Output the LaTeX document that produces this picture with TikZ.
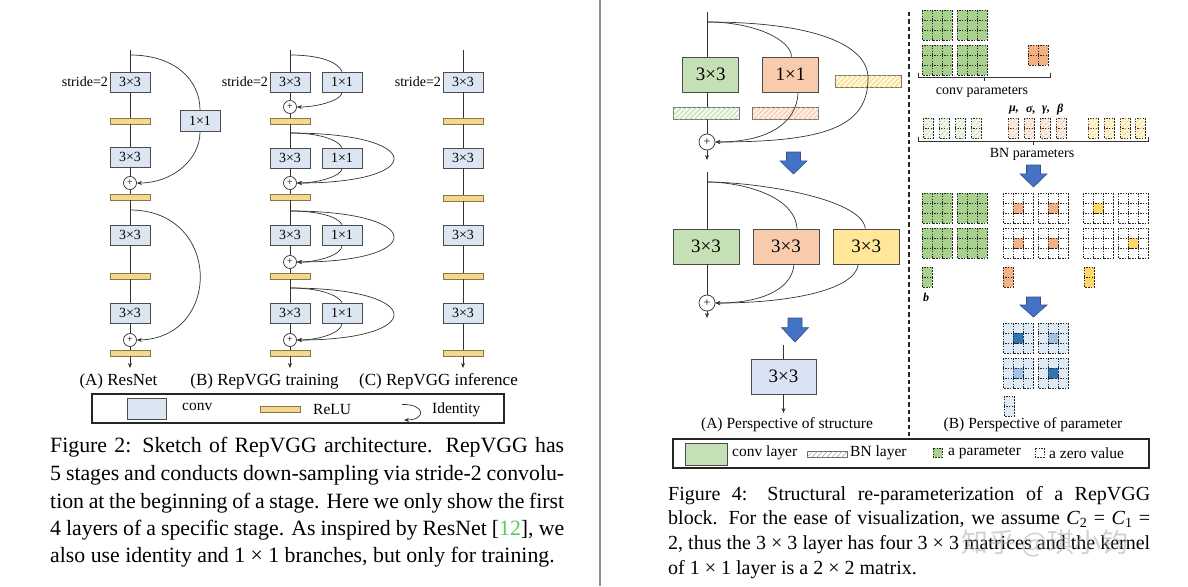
\documentclass[tikz,border=0pt]{standalone}
\usepackage{fontspec}
\setmainfont{Liberation Serif}
\newfontfamily\cjkfont{Noto Sans CJK SC}
\usetikzlibrary{arrows.meta,patterns.meta,calc}
\definecolor{convblue}{HTML}{DCE6F2}
\definecolor{reluy}{HTML}{F2D98F}
\definecolor{relud}{HTML}{8A7746}
\definecolor{lgreen}{HTML}{C5E0B4}
\definecolor{lorange}{HTML}{F8CBAD}
\definecolor{lyellow}{HTML}{FFE699}
\definecolor{lblue}{HTML}{DAE3F3}
\definecolor{arrowblue}{HTML}{4472C4}
\definecolor{pgreen}{HTML}{A9D18E}
\definecolor{porange}{HTML}{F4B183}
\definecolor{pyellow}{HTML}{FFD966}
\definecolor{pblue1}{HTML}{DEEBF7}
\definecolor{pblue2}{HTML}{9DC3E6}
\definecolor{pblue3}{HTML}{2E75B6}
\definecolor{citegreen}{HTML}{4FD24F}
\definecolor{sepgray}{HTML}{8C8C8C}
\definecolor{bngreen}{HTML}{F1F8EC}
\definecolor{bnorange}{HTML}{FDEEE4}
\definecolor{bnyellow}{HTML}{FFF7DA}
\definecolor{hgreen}{HTML}{A9D18E}
\definecolor{horange}{HTML}{F4B183}
\definecolor{hyellow}{HTML}{F2C94C}
\definecolor{hgray}{HTML}{A0A0A0}
% grid of dashed parameter cells: x y cols rows fill
\newcommand{\mygrid}[5]{%
  \foreach \ci in {1,...,#3}{%
    \foreach \cj in {1,...,#4}{%
      \draw[cellsty,fill=#5] ({#1+10*(\ci-1)},{#2+10*(\cj-1)}) rectangle ++(10,10);
    }}}
% hatched cells: x y cols rows fill hatchcolor
\newcommand{\myhgrid}[6]{%
  \foreach \ci in {1,...,#3}{%
    \foreach \cj in {1,...,#4}{%
      \draw[cellsty,fill=#5,hatch=#6] ({#1+10*(\ci-1)},{#2+10*(\cj-1)}) rectangle ++(10,10);
    }}}
% blue block arrow: cx ytop ybottom
\newcommand{\blockarrow}[3]{%
  \draw[blk] (#1-7,#2) -- (#1+7,#2) -- (#1+7,{#2+0.4*(#3-#2)}) -- (#1+13.5,{#2+0.4*(#3-#2)}) -- (#1,#3)
    -- (#1-13.5,{#2+0.4*(#3-#2)}) -- (#1-7,{#2+0.4*(#3-#2)}) -- cycle;}
\begin{document}
\begin{tikzpicture}[x=1pt,y=-1pt,
  ln/.style={draw=black!80,line width=0.7pt},
  arr/.style={ln,-{Stealth[length=5pt,width=4pt]}},
  conv/.style={draw=black!70,fill=convblue,line width=0.8pt,minimum width=40pt,minimum height=20pt,inner sep=0pt,font=\fontsize{14}{14}\selectfont},
  relu/.style={draw=relud,fill=reluy,line width=0.8pt,minimum width=40pt,minimum height=6pt,inner sep=0pt},
  plusnode/.style={circle,draw=black!80,fill=white,line width=0.7pt,minimum size=13pt,inner sep=0pt,font=\fontsize{10}{10}\selectfont},
  lbl/.style={inner sep=1.5pt,font=\fontsize{14}{14}\selectfont},
  sublbl/.style={font=\fontsize{17}{17}\selectfont},
  leg/.style={anchor=west,inner sep=0pt,font=\fontsize{15.5}{15.5}\selectfont},
  rbox/.style={draw=black!70,line width=0.8pt,minimum width=56pt,minimum height=35pt,inner sep=0pt,font=\fontsize{19}{19}\selectfont},
  bnbar/.style={draw=black!55,line width=0.7pt,minimum width=66pt,minimum height=12pt,inner sep=0pt},
  hatch/.style={postaction={pattern={Lines[angle=45,distance=3.5pt,line width=0.5pt]},pattern color=#1}},
  rplus/.style={circle,draw=black!80,fill=white,line width=0.7pt,minimum size=16pt,inner sep=0pt,font=\fontsize{12}{12}\selectfont},
  cellsty/.style={draw=black!85,dash pattern=on 1.6pt off 1.2pt,line width=0.7pt},
  blk/.style={fill=arrowblue,draw=arrowblue!70!black,line width=0.6pt},
  capL/.style={anchor=base west,inner sep=0pt,font=\fontsize{21.8}{27}\selectfont},
  capR/.style={anchor=base west,inner sep=0pt,font=\fontsize{20}{24}\selectfont},
  plbl/.style={font=\fontsize{14}{14}\selectfont},
  greek/.style={anchor=west,inner sep=0pt,font=\fontsize{12}{12}\selectfont\bfseries\itshape}
]
\fill[white] (0,0) rectangle (1188,586);
\useasboundingbox (0,0) rectangle (1188,586);
\draw[sepgray,line width=2pt] (600,0) -- (600,586);

% ================= Column A : ResNet =================
\coordinate (a0) at (130,50);
\coordinate (as1) at (130,55);
\node[conv] (a1) at (130,82) {3×3};
\node[lbl,anchor=east] (al) at (a1.west) {stride=2};
\node[relu] (ar1) at (130,121) {};
\node[conv,minimum height=21pt] (ab) at (200,121) {1×1};
\node[conv] (a2) at (130,157) {3×3};
\node[plusnode] (ap1) at (130,183) {+};
\node[relu] (ar2) at (130,197) {};
\coordinate (as2) at (130,210);
\node[conv] (a3) at (130,235) {3×3};
\node[relu] (ar3) at (130,276) {};
\node[conv] (a4) at (130,313) {3×3};
\node[plusnode] (ap2) at (130,340) {+};
\node[relu] (ar4) at (130,353) {};
\coordinate (aend) at (130,368);
\draw[ln] (a0) -- (a1) -- (ar1) -- (a2) -- (ap1) -- (ar2) -- (a3) -- (ar3) -- (a4) -- (ap2) -- (ar4);
\draw[arr] (ar4) -- (aend);
\draw[ln] (as1) .. controls (175,55) and (200,80) .. (ab.north);
\draw[arr] (ab.south) .. controls (200,160) and (172,183) .. (ap1.east);
\draw[arr] (as2) .. controls (222,210) and (222,338) .. (ap2.east);

% ================= Column B : RepVGG training =================
\coordinate (b0) at (290,50);
\coordinate (bs1) at (290,55);
\node[conv] (b1) at (290,82) {3×3};
\node[lbl,anchor=east] (bl) at (b1.west) {stride=2};
\node[conv] (bb1) at (342,82) {1×1};
\node[plusnode] (bp1) at (290,107) {+};
\node[relu] (br1) at (290,121) {};
\coordinate (bs2) at (290,133);
\node[conv] (b2) at (290,158) {3×3};
\node[conv] (bb2) at (342,158) {1×1};
\node[plusnode] (bp2) at (290,183) {+};
\node[relu] (br2) at (290,197) {};
\coordinate (bs3) at (290,211);
\node[conv] (b3) at (290,235) {3×3};
\node[conv] (bb3) at (342,235) {1×1};
\node[plusnode] (bp3) at (290,262) {+};
\node[relu] (br3) at (290,276) {};
\coordinate (bs4) at (290,288);
\node[conv] (b4) at (290,313) {3×3};
\node[conv] (bb4) at (342,313) {1×1};
\node[plusnode] (bp4) at (290,340) {+};
\node[relu] (br4) at (290,353) {};
\coordinate (bend) at (290,368);
\draw[ln] (b0) -- (b1) -- (bp1) -- (br1) -- (b2) -- (bp2) -- (br2) -- (b3) -- (bp3) -- (br3) -- (b4) -- (bp4) -- (br4);
\draw[arr] (br4) -- (bend);
% block 1
\draw[ln] (bs1) .. controls (320,55) and (338,62) .. (bb1.north);
\draw[arr] (bb1.south) .. controls (342,100) and (318,107) .. (bp1.east);
% blocks 2-4
\draw[ln] (bs2) .. controls (320,133) and (338,140) .. (bb2.north);
\draw[arr] (bb2.south) .. controls (342,176) and (318,183) .. (bp2.east);
\draw[arr] (bs2) .. controls (427,133) and (427,183) .. (bp2.east);
\draw[ln] (bs3) .. controls (320,211) and (338,217) .. (bb3.north);
\draw[arr] (bb3.south) .. controls (342,255) and (318,262) .. (bp3.east);
\draw[arr] (bs3) .. controls (427,211) and (427,262) .. (bp3.east);
\draw[ln] (bs4) .. controls (320,288) and (338,295) .. (bb4.north);
\draw[arr] (bb4.south) .. controls (342,333) and (318,340) .. (bp4.east);
\draw[arr] (bs4) .. controls (427,288) and (427,340) .. (bp4.east);

% ================= Column C : RepVGG inference =================
\coordinate (c0) at (463,50);
\node[conv] (c1) at (463,82) {3×3};
\node[lbl,anchor=east] (cl) at (c1.west) {stride=2};
\node[relu] (cr1) at (463,121) {};
\node[conv] (c2) at (463,158) {3×3};
\node[relu] (cr2) at (463,198) {};
\node[conv] (c3) at (463,235) {3×3};
\node[relu] (cr3) at (463,276) {};
\node[conv] (c4) at (463,313) {3×3};
\node[relu] (cr4) at (463,353) {};
\coordinate (cend) at (463,368);
\draw[ln] (c0) -- (c1) -- (cr1) -- (c2) -- (cr2) -- (c3) -- (cr3) -- (c4) -- (cr4);
\draw[arr] (cr4) -- (cend);

% sub labels
\node[sublbl] (la) at (118.5,381) {(A) ResNet};
\node[sublbl] (lbb) at (264.5,381) {(B) RepVGG training};
\node[sublbl] (lc) at (438.5,381) {(C) RepVGG inference};

% legend left
\draw[black!85,line width=1.8pt] (92,394) rectangle (504,423);
\draw[draw=black!70,fill=convblue,line width=0.8pt] (127,398) rectangle (166,419);
\node[leg] (lg1) at (182,407) {conv};
\node[relu] (lgr) at (280.5,409) {};
\node[leg] (lg2) at (313,409) {ReLU};
\coordinate (idA) at (402,404.5);
\coordinate (idB) at (404,420);
\draw[arr] (idA) .. controls (426,404) and (426,420) .. (idB);
\node[leg] (lg3) at (432,410) {Identity};

% caption left
\node[capL] (cl1) at (50,452) {\makebox[514pt][s]{Figure 2: Sketch of RepVGG architecture. RepVGG has}};
\node[capL] (cl2) at (50,480) {\makebox[514pt][s]{5 stages and conducts down-sampling via stride-2 convolu-}};
\node[capL] (cl3) at (50,508) {\makebox[514pt][s]{tion at the beginning of a stage. Here we only show the first}};
\node[capL] (cl4) at (50,535) {\makebox[514pt][s]{4 layers of a specific stage. As inspired by ResNet [\textcolor{citegreen}{12}], we}};
\node[capL] (cl5) at (50,562) {also use identity and 1 × 1 branches, but only for training.};

% ================= Right (A) structure =================
% block 1
\coordinate (r1top) at (707,12);
\coordinate (r1s) at (707,22);
\node[rbox,fill=lgreen] (g1) at (710.7,74.5) {3×3};
\node[rbox,fill=lorange] (o1) at (790.5,74.5) {1×1};
\node[bnbar,fill=bnyellow,hatch=hyellow] (ybn1) at (868,81) {};
\node[bnbar,fill=bngreen,hatch=hgreen] (gbn1) at (706,113) {};
\node[bnbar,fill=bnorange,hatch=horange] (obn1) at (785.8,113) {};
\node[rplus] (p1) at (707,142) {+};
\coordinate (r1end) at (707,160);
\draw[ln] (r1top) -- (r1top |- g1.north);
\draw[ln] (r1top |- g1.south) -- (r1top |- gbn1.north);
\draw[ln] (r1top |- gbn1.south) -- (p1);
\draw[arr] (p1) -- (r1end);
\draw[ln] (r1s) .. controls (755,22) and (791,40) .. ($(o1.north)+(1,0)$);
\draw[arr] (r1s) .. controls (815,22) and (868,45) .. (868,78) .. controls (868,125) and (830,142) .. (p1.east);
\draw[arr] ($(o1.south)+(7.5,0)$) .. controls (797,125) and (765,142) .. (p1.east);
\blockarrow{793.5}{152}{174}

% block 2
\coordinate (r2top) at (707,172);
\coordinate (r2s) at (707,182);
\node[rbox,minimum width=66pt,fill=lgreen] (g2) at (706,246.5) {3×3};
\node[rbox,minimum width=66pt,fill=lorange] (o2) at (786,246.5) {3×3};
\node[rbox,minimum width=66pt,fill=lyellow] (y2) at (866.3,246.5) {3×3};
\node[rplus] (p2) at (707,303) {+};
\coordinate (r2end) at (707,318);
\draw[ln] (r2top) -- (r2top |- g2.north);
\draw[ln] (r2top |- g2.south) -- (p2);
\draw[arr] (p2) -- (r2end);
\draw[ln] (r2s) .. controls (740,182) and (795,195) .. ($(o2.north)+(11,0)$);
\draw[ln] (r2s) .. controls (755,182) and (862,198) .. ($(y2.north)+(-1,0)$);
\draw[arr] ($(o2.south)+(8,0)$) .. controls (792,290) and (760,303) .. (p2.east);
\draw[arr] ($(y2.south)+(-8,0)$) .. controls (855,290) and (790,303) .. (p2.east);
\blockarrow{795}{318}{342}

% block 3
\coordinate (r3top) at (783.5,345);
\node[rbox,minimum width=65pt,fill=lblue] (lb) at (783.5,376.5) {3×3};
\coordinate (r3end) at (783.5,413);
\draw[ln] (r3top) -- (lb);
\draw[arr] (lb) -- (r3end);

\node[font=\fontsize{15.5}{15.5}\selectfont] (lsa) at (787,425) {(A) Perspective of structure};

% separator
\draw[black!85,line width=2pt,dash pattern=on 4.5pt off 3pt] (909,12) -- (909,436);

% ================= Right (B) parameters =================
\mygrid{922}{10}{3}{3}{pgreen}
\mygrid{957}{10}{3}{3}{pgreen}
\mygrid{922}{45}{3}{3}{pgreen}
\mygrid{957}{45}{3}{3}{pgreen}
\mygrid{1028}{45}{2}{2}{porange}
\draw[ln,line width=0.9pt] (918,73) -- (918,77) -- (1050,77) -- (1050,73);
\draw[ln,line width=0.9pt] (984,77) -- (984,81);
\node[plbl] (cpl) at (982,92) {conv parameters};

\myhgrid{923}{118}{1}{2}{bngreen}{hgreen}
\myhgrid{939}{118}{1}{2}{bngreen}{hgreen}
\myhgrid{955}{118}{1}{2}{bngreen}{hgreen}
\myhgrid{971}{118}{1}{2}{bngreen}{hgreen}
\myhgrid{1008}{118}{1}{2}{bnorange}{horange}
\myhgrid{1024}{118}{1}{2}{bnorange}{horange}
\myhgrid{1040}{118}{1}{2}{bnorange}{horange}
\myhgrid{1056}{118}{1}{2}{bnorange}{horange}
\myhgrid{1088}{118}{1}{2}{bnyellow}{hyellow}
\myhgrid{1104}{118}{1}{2}{bnyellow}{hyellow}
\myhgrid{1120}{118}{1}{2}{bnyellow}{hyellow}
\myhgrid{1135}{118}{1}{2}{bnyellow}{hyellow}
\node[greek] (gm) at (1009,110) {μ,};
\node[greek] (gs) at (1026,110) {σ,};
\node[greek] (gg) at (1042,110) {γ,};
\node[greek] (gb) at (1057,110) {β};
\draw[ln,line width=0.9pt] (918,137) -- (918,141) -- (1148,141) -- (1148,137);
\draw[ln,line width=0.9pt] (1033,141) -- (1033,145);
\node[plbl] (bnpl) at (1032,154) {BN parameters};

\blockarrow{1033.5}{165}{187}

% fused grids
\mygrid{922}{193}{3}{3}{pgreen}
\mygrid{957}{193}{3}{3}{pgreen}
\mygrid{922}{228}{3}{3}{pgreen}
\mygrid{957}{228}{3}{3}{pgreen}
\mygrid{1003}{193}{3}{3}{white}
\mygrid{1038}{193}{3}{3}{white}
\mygrid{1003}{228}{3}{3}{white}
\mygrid{1038}{228}{3}{3}{white}
\draw[cellsty,fill=porange] (1013,203) rectangle ++(10,10);
\draw[cellsty,fill=porange] (1048,203) rectangle ++(10,10);
\draw[cellsty,fill=porange] (1013,238) rectangle ++(10,10);
\draw[cellsty,fill=porange] (1048,238) rectangle ++(10,10);
\mygrid{1083}{193}{3}{3}{white}
\mygrid{1118}{193}{3}{3}{white}
\mygrid{1083}{228}{3}{3}{white}
\mygrid{1118}{228}{3}{3}{white}
\draw[cellsty,fill=pyellow] (1093,203) rectangle ++(10,10);
\draw[cellsty,fill=pyellow] (1128,238) rectangle ++(10,10);
\mygrid{922}{267}{1}{2}{pgreen}
\mygrid{1003}{267}{1}{2}{porange}
\mygrid{1084}{267}{1}{2}{pyellow}
\node[font=\fontsize{12}{12}\selectfont\bfseries\itshape] (bb) at (926,297) {b};

\blockarrow{1033.5}{297}{317}

% final grids
\mygrid{1003}{323}{3}{3}{pblue1}
\mygrid{1038}{323}{3}{3}{pblue1}
\mygrid{1003}{358}{3}{3}{pblue1}
\mygrid{1038}{358}{3}{3}{pblue1}
\draw[cellsty,fill=pblue3] (1013,333) rectangle ++(10,10);
\draw[cellsty,fill=pblue2] (1048,333) rectangle ++(10,10);
\draw[cellsty,fill=pblue2] (1013,368) rectangle ++(10,10);
\draw[cellsty,fill=pblue3] (1048,368) rectangle ++(10,10);
\mygrid{1004}{396}{1}{2}{pblue1}

\node[font=\fontsize{15.5}{15.5}\selectfont] (lsb) at (1033,425) {(B) Perspective of parameter};

% legend right
\draw[black!85,line width=1.8pt] (673,439) rectangle (1149,468);
\draw[draw=black!70,fill=lgreen,line width=0.8pt] (685,443) rectangle (727,465);
\node[leg] (rl1) at (732,453) {conv layer};
\draw[draw=black!60,fill=white,hatch=hgray,line width=0.7pt] (807,451) rectangle (847,457);
\node[leg] (rl2) at (850,453) {BN layer};
\draw[cellsty,fill=pgreen] (933,448) rectangle (942,457);
\node[leg] (rl3) at (948,453) {a parameter};
\draw[cellsty,fill=white] (1035,448) rectangle (1044,457);
\node[leg] (rl4) at (1049,453) {a zero value};

% caption right
\node[capR] (cr1l) at (668,500) {\makebox[482pt][s]{Figure 4: Structural re-parameterization of a RepVGG}};
\node[capR] (cr2l) at (668,524.8) {\makebox[482pt][s]{block. For the ease of visualization, we assume \textit{C}\textsubscript{2} = \textit{C}\textsubscript{1} =}};
\node[capR] (cr3l) at (668,549.6) {\makebox[482pt][s]{2, thus the 3 × 3 layer has four 3 × 3 matrices and the kernel}};
\node[capR] (cr4l) at (668,574.4) {of 1 × 1 layer is a 2 × 2 matrix.};

% watermark
\node[text=gray!70,opacity=0.5,font=\cjkfont\fontsize{27}{27}\selectfont] (wm) at (1045,543) {知乎 @琪小钧};
\end{tikzpicture}
\end{document}
